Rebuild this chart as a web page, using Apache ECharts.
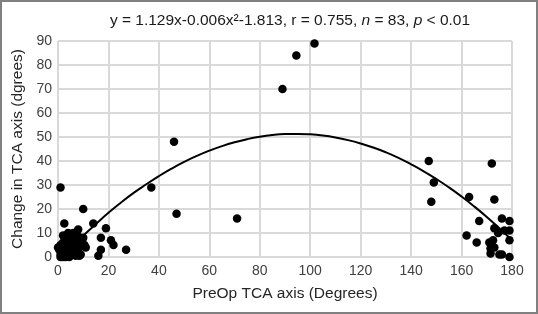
<!DOCTYPE html>
<html>
<head>
<meta charset="utf-8">
<script src="https://cdn.jsdelivr.net/npm/echarts@6/dist/echarts.min.js"></script>
<style>
html,body{margin:0;padding:0;background:#fff;}
#chart{width:538px;height:314px;}
</style>
</head>
<body>
<div id="chart"></div>
<script>
// Scatter points: PreOp TCA axis (x) and change in TCA axis (y)
const pointsX = [
  // dense cluster near origin
  0,0.5,1,1,1.5,2,2,2.5,3,3,3.5,4,4,4.5,5,5,5.5,6,6,6.5,7,7,7.5,8,8,8.5,9,9,9.5,10,10.5,11,3,2,1,5,7,4,6,2,
  // lower-left outliers
  10,2.5,14,19,8,17,21,22,27,17,16,
  // middle
  1,37,46,47,71,89,94.5,101.7,
  // right cluster
  147,172,149,148,163,173,167,176,179,173,174.5,177,179,179,162,166,171,172.5,173,171.5,171.5,175,176,179
];
const pointsY = [
  4,3,1,5,2,0,6,3,8.5,1,4,2,6,0,9,3,5,1,7,4,2,9.5,6,8.5,3,0.5,5.5,1,7,8,5,4,0,2,0,7,0.5,10,10,9,
  20,14,14,12,11.5,8,7,5,3,3,0.5,
  29,29,48,18,16,70,84,89,
  40,39,31,23,25,24,15,16,15,12,10,11,11,7,9,6,6,7,4,3.5,1.5,1,1,0
];
// Fitted curve (y = 1.129x - 0.006x^2 - 1.813)
const curveX = [1.6,5,10,15,20,25,30,35,40,45,50,55,60,65,70,75,80,85,90,95,100,105,110,115,120,125,130,135,140,145,150,155,160,165,170,175,180];
const curveY = [0,3.7,8.9,13.7,18.4,22.7,26.7,30.3,33.7,36.8,39.6,42.1,44.3,46.2,47.8,49.1,50.1,50.8,51.2,51.3,51.1,50.6,49.8,48.7,47.3,45.6,43.6,41.3,38.6,35.7,32.5,29.0,25.2,21.1,16.7,12.0,7.0];
const xTicks = [0,20,40,60,80,100,120,140,160,180];
const yTicks = [0,10,20,30,40,50,60,70,80,90];

const scatterData = pointsX.map((x,i)=>[x,pointsY[i]]);
const curveData = curveX.map((x,i)=>[x,curveY[i]]);

const chart = echarts.init(document.getElementById('chart'), null, {renderer:'canvas'});
const FONT = '"Liberation Sans", Arial, sans-serif';
chart.setOption({
  animation:false,
  backgroundColor:'#fff',
  textStyle:{fontFamily:FONT},
  title:{
    text:'y = 1.129x-0.006x²-1.813, r = 0.755, {i|n} = 83, {i|p} < 0.01',
    left:285, top:8, textAlign:'center',
    textStyle:{fontSize:15.5, fontWeight:'normal', color:'#1a1a1a', fontFamily:FONT,
      rich:{i:{fontStyle:'italic', fontSize:15.5, color:'#1a1a1a', fontFamily:FONT}}}
  },
  graphic:[{type:'rect', shape:{x:1,y:1,width:536,height:312}, style:{fill:'none', stroke:'#808080', lineWidth:2}, silent:true}],
  grid:{left:58, right:26, top:41, bottom:57},
  xAxis:{
    type:'value', min:xTicks[0], max:xTicks[xTicks.length-1], interval:20,
    name:'PreOp TCA axis (Degrees)', nameLocation:'middle', nameGap:29,
    nameTextStyle:{fontSize:15.5, color:'#262626', fontFamily:FONT},
    axisLine:{show:false}, axisTick:{show:false},
    axisLabel:{fontSize:14, color:'#404040', margin:7, fontFamily:FONT},
    splitLine:{show:true, lineStyle:{color:'#d9d9d9', width:2}}
  },
  yAxis:{
    type:'value', min:yTicks[0], max:yTicks[yTicks.length-1], interval:10,
    name:'Change in TCA axis (dgrees)', nameLocation:'middle', nameGap:32,
    nameTextStyle:{fontSize:15.5, color:'#262626', fontFamily:FONT},
    axisLine:{show:false}, axisTick:{show:false},
    axisLabel:{fontSize:14, color:'#404040', margin:6, fontFamily:FONT},
    splitLine:{show:true, lineStyle:{color:'#d9d9d9', width:2}}
  },
  series:[
    {type:'scatter', data:scatterData, symbolSize:8.5, itemStyle:{color:'#000', opacity:1}, z:3},
    {type:'line', data:curveData, smooth:true, showSymbol:false, lineStyle:{color:'#000', width:2}, z:4}
  ]
});
</script>
</body>
</html>
